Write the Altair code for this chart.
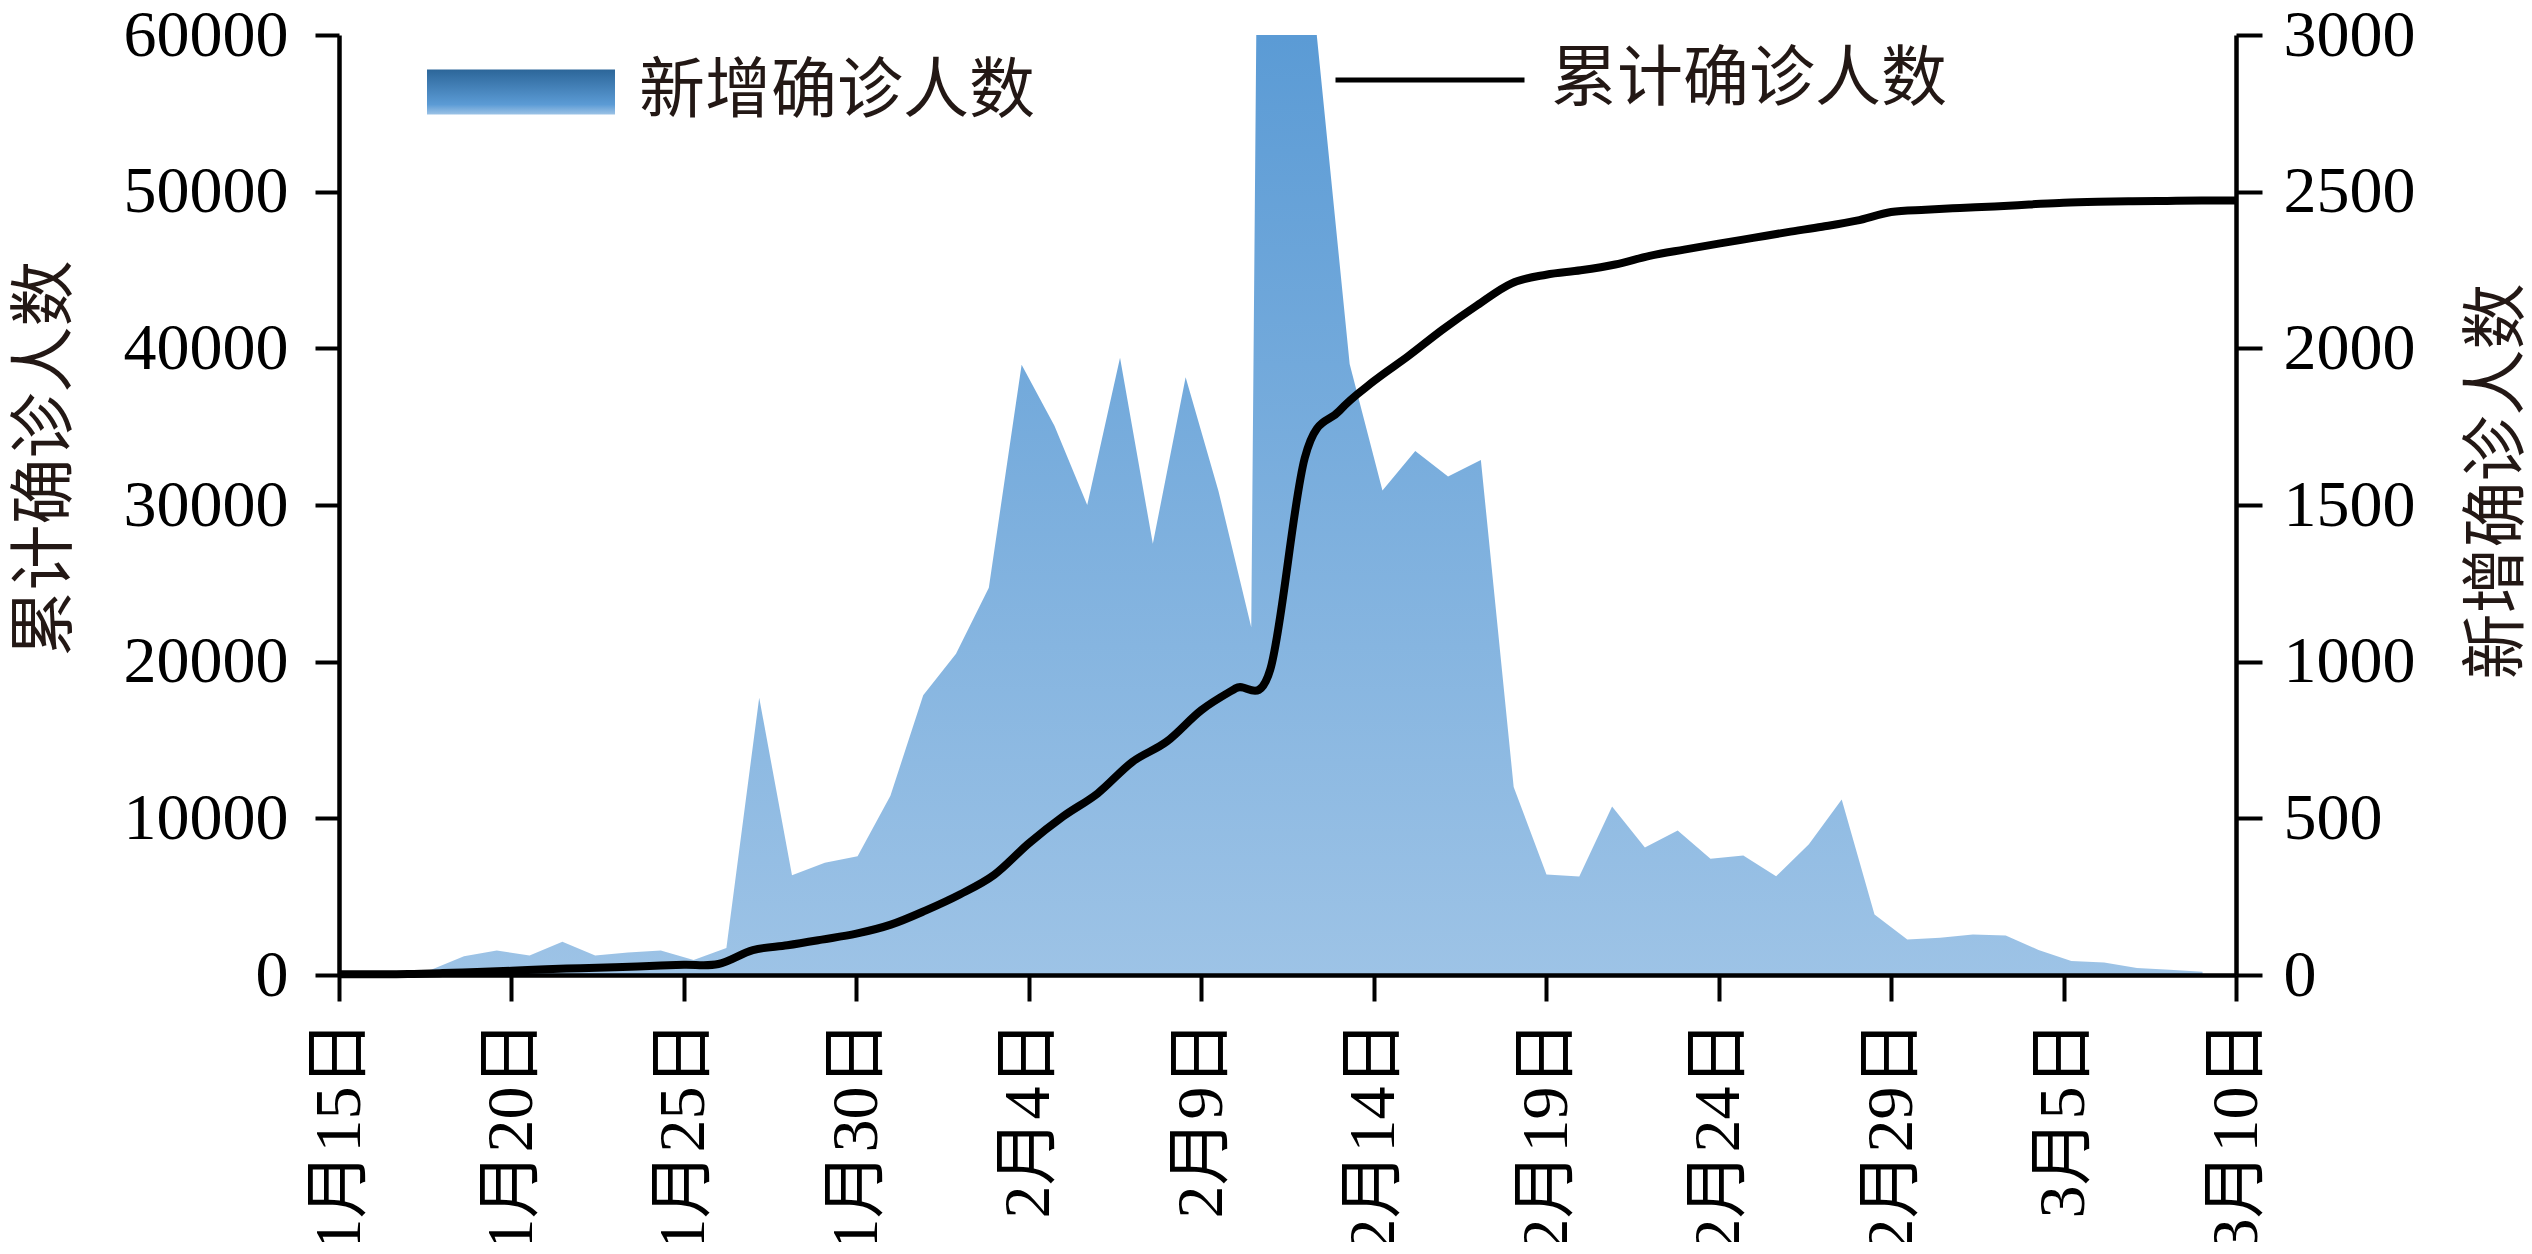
import altair as alt
import pandas as pd

# ---- data ----
# cumulative confirmed cases (left axis), one value per day 1/15 .. 3/10
cum_dates = pd.date_range("2020-01-15", "2020-03-10", freq="D").strftime("%Y-%m-%d").tolist()
cum_values = [
    41, 45, 62, 121, 198, 270, 370, 430, 500, 575, 650, 700, 1590, 1900, 2260, 2640, 3215,
    4110, 5140, 6400, 8400, 10130, 11600, 13600, 14900, 16900, 18300, 19500, 33000, 36000,
    37900, 39500, 41200, 42750, 44150, 44700, 44980, 45350, 45900, 46300, 46680, 47050,
    47420, 47760, 48150, 48700,
    48850, 48960, 49060, 49180, 49300, 49360, 49390, 49410, 49430, 49440,
]
# daily new confirmed cases (right axis), one value per day 1/15 .. 3/11
new_dates = pd.date_range("2020-01-15", "2020-03-11", freq="D").strftime("%Y-%m-%d").tolist()
new_values = [
    0, 4, 17, 60, 78, 62, 106, 62, 72, 78, 48, 86, 885, 318, 358, 379, 572,
    893, 1025, 1236, 1948, 1753, 1500, 1970, 1376, 1908, 1545, 1110, 13436, 2997,
    1950, 1546, 1672, 1591, 1644, 600, 321, 314, 538, 407, 461, 371, 381, 315, 417, 560,
    193, 113, 119, 129, 126, 80, 45, 40, 22, 17, 10,
]
series_names = ["新增确诊人数", "累计确诊人数"]

cum_df = pd.DataFrame({"date": cum_dates, "cum": cum_values, "series": series_names[1]})
new_df = pd.DataFrame({"date": new_dates, "new": new_values, "series": series_names[0]})

left_ticks = [0, 10000, 20000, 30000, 40000, 50000, 60000]
right_ticks = [0, 500, 1000, 1500, 2000, 2500, 3000]
tick_days = [(1, 15), (1, 20), (1, 25), (1, 30), (2, 4), (2, 9), (2, 14),
             (2, 19), (2, 24), (2, 29), (3, 5), (3, 10)]

CJK = "Noto Sans CJK SC"
NUMF = "Liberation Serif, Times New Roman, serif"
SERIF = "Liberation Serif, Times New Roman, 'Noto Sans CJK SC', serif"
TXT = "#231815"


def dt(m, d, h=0, mi=0):
    return alt.DateTime(year=2020, month=m, date=d, hours=h, minutes=mi, utc=True)


grad = ("{gradient: 'linear', x1: 0, y1: 0, x2: 0, y2: 1, stops: ["
        "{offset: 0, color: '#2C6699'}, {offset: 0.777, color: '#5B9BD5'}, "
        "{offset: 1, color: '#9DC3E6'}]}")

axis_common = dict(
    labelFont=NUMF, labelFontSize=66, labelColor="black", labelLimit=0,
    ticks=True, tickColor="black", tickWidth=4, domainColor="black", domainWidth=4.5,
    grid=False, zindex=1, titleFont=CJK, titleFontSize=66,
    titleFontWeight="normal", titleColor=TXT,
)

area = alt.Chart(new_df).mark_area(clip=True, interpolate="linear").encode(
    x=alt.X("date:T",
            scale=alt.Scale(type="utc", domain=[dt(1, 14, 4, 34), dt(3, 12, 0, 29)]),
            axis=None),
    y=alt.Y("new:Q", scale=alt.Scale(domain=[0, 3000], nice=False),
            axis=alt.Axis(orient="right", values=right_ticks, format="d",
                          tickSize=26, labelPadding=21,
                          title="新增确诊人数", titleAngle=270, titleBaseline="top",
                          titlePadding=50, titleY=446, **axis_common)),
    fill=alt.Fill("series:N",
                  scale=alt.Scale(range=[{"expr": grad}]),
                  legend=alt.Legend(orient="none", legendX=88, legendY=-37, title=None,
                                    padding=0,
                                    symbolType="M-1,-0.24L1,-0.24L1,0.24L-1,0.24Z",
                                    symbolSize=35344, symbolStrokeWidth=0,
                                    labelFont=CJK, labelFontSize=66, labelColor=TXT,
                                    labelOffset=24, labelLimit=0)),
)

line = alt.Chart(cum_df).mark_line(strokeWidth=8, interpolate="cardinal").encode(
    x=alt.X("date:T",
            scale=alt.Scale(type="utc", domain=[dt(1, 15), dt(3, 10)]),
            axis=alt.Axis(orient="bottom", values=[dt(m, d) for m, d in tick_days],
                          format="%-m月%-d日", labelAngle=270, labelFlush=False,
                          labelOverlap=False, tickSize=26, labelPadding=19,
                          title=None, **{**axis_common, "labelFont": SERIF})),
    y=alt.Y("cum:Q", scale=alt.Scale(domain=[0, 60000], nice=False),
            axis=alt.Axis(orient="left", values=left_ticks, format="d",
                          tickSize=24, labelPadding=27,
                          title="累计确诊人数", titlePadding=60, titleY=423,
                          **axis_common)),
    stroke=alt.Stroke("series:N", scale=alt.Scale(range=["#000000"]),
                      legend=alt.Legend(orient="none", legendX=994, legendY=-52, title=None,
                                        padding=0, symbolType="stroke",
                                        symbolSize=35721, symbolStrokeWidth=5,
                                        labelFont=CJK, labelFontSize=66, labelColor=TXT,
                                        labelOffset=24, labelLimit=0)),
)

chart = alt.layer(area, line).resolve_scale(
    x="independent", y="independent", fill="independent", stroke="independent"
).properties(
    width=1897, height=940,
    padding={"left": 331, "top": 27, "right": 288, "bottom": 267},
    autosize=alt.AutoSizeParams(type="none"),
    background="white",
).configure_view(stroke=None)

chart.save("out.html", embed_options={"renderer": "svg", "actions": False})
